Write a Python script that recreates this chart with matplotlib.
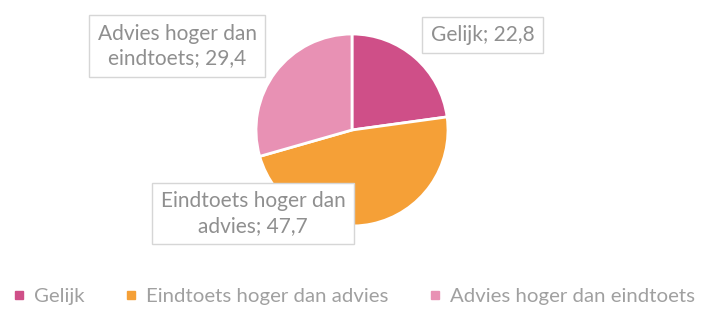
import matplotlib
matplotlib.use("Agg")
import matplotlib.pyplot as plt
from matplotlib.lines import Line2D

categories = ["Gelijk", "Eindtoets hoger dan advies", "Advies hoger dan eindtoets"]
values = [22.8, 47.7, 29.4]
label_texts = ["Gelijk; 22,8", "Eindtoets hoger dan\nadvies; 47,7", "Advies hoger dan\neindtoets; 29,4"]
colors = ["#cf4f88", "#f5a037", "#e891b4"]

plt.rcParams['font.family'] = ['Lato', 'DejaVu Sans']

W, H = 702, 313
fig = plt.figure(figsize=(W / 100, H / 100), dpi=100)
cx, cy, r = 352, 130, 96
ax = fig.add_axes([(cx - r) / W, (H - cy - r) / H, 2 * r / W, 2 * r / H])
wedges, _ = ax.pie(values, colors=colors, startangle=90, counterclock=False, radius=1,
                   wedgeprops=dict(edgecolor="white", linewidth=2))
ax.set_xlim(-1, 1)
ax.set_ylim(-1, 1)
ax.set_aspect("equal")
ax.axis("off")

label_pos = [(1.36, 0.99), (-1.03, -0.87), (-1.82, 0.875)]
for (x, y), t in zip(label_pos, label_texts):
    ax.text(x, y, t, ha="center", va="center", multialignment="center",
            fontsize=15, color="#8f8f8f", linespacing=1.3, clip_on=False,
            bbox=dict(boxstyle="square,pad=0.4", fc="white", ec="#d6d6d6", lw=1))

handles = [Line2D([0], [0], marker="s", linestyle="none", markersize=6,
                  markerfacecolor=c, markeredgecolor=c) for c in colors]
fig.legend(handles, categories, loc="center", bbox_to_anchor=(0.505, 1 - 296 / H),
           ncol=3, frameon=False, fontsize=14.7, labelcolor="#a0a0a0",
           handlelength=0.5, handletextpad=0.5, columnspacing=2.0)

fig.savefig("out.png", dpi=100, facecolor="white")
